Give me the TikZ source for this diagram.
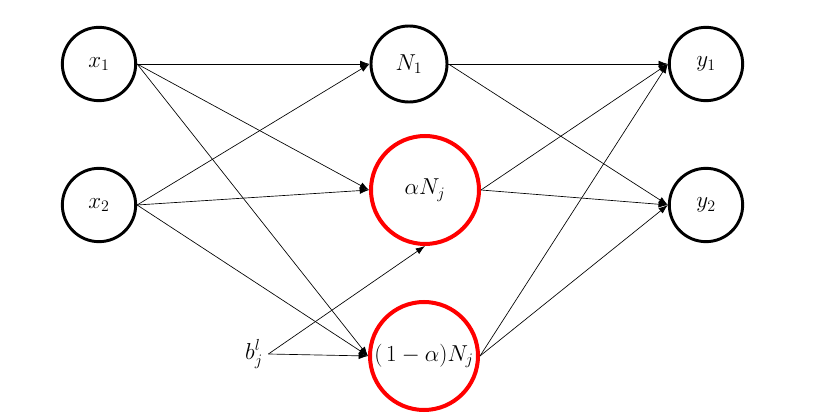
\documentclass[tikz,border=0pt]{standalone}
\usetikzlibrary{arrows.meta}
\begin{document}
\begin{tikzpicture}[
    x=0.75pt, y=-0.75pt,
    neuron/.style={circle, draw, line width=2.2pt, minimum size=55pt, inner sep=0pt, font=\LARGE},
    split/.style={neuron, draw=red, line width=3pt, minimum size=81pt},
    arrow/.style={-{Latex[length=7pt,width=5pt]}, line width=0.5pt}
]
    \useasboundingbox (0,0) rectangle (833,413);

    \node[neuron] (x1) at (99,64) {$x_1$};
    \node[neuron] (x2) at (99,205) {$x_2$};
    \node[neuron, minimum size=57pt] (n1) at (409,64) {$N_1$};
    \node[split] (an) at (425,190) {$\alpha N_j$};
    \node[split] (bn) at (424,356) {$(\,1-\alpha)N_j$};
    \node[neuron] (y1) at (706,64) {$y_1$};
    \node[neuron] (y2) at (706,205) {$y_2$};
    \node[font=\LARGE, inner sep=4pt] (bias) at (254,354) {$b_j^l$};

    % input layer
    \draw[arrow] (x1.east) -- (n1.west);
    \draw[arrow] (x1.east) -- (an.west);
    \draw[arrow] (x1.east) -- (bn.west);
    \draw[arrow] (x2.east) -- (n1.west);
    \draw[arrow] (x2.east) -- (an.west);
    \draw[arrow] (x2.east) -- (bn.west);
    \draw[arrow] (bias.east) -- (an.south);
    \draw[arrow] (bias.east) -- (bn.west);

    % output layer
    \draw[arrow] (n1.east) -- (y1.west);
    \draw[arrow] (n1.east) -- (y2.west);
    \draw[arrow] (an.east) -- (y1.west);
    \draw[arrow] (an.east) -- (y2.west);
    \draw[arrow] (bn.east) -- (y1.west);
    \draw[arrow] (bn.east) -- (y2.west);
\end{tikzpicture}
\end{document}
